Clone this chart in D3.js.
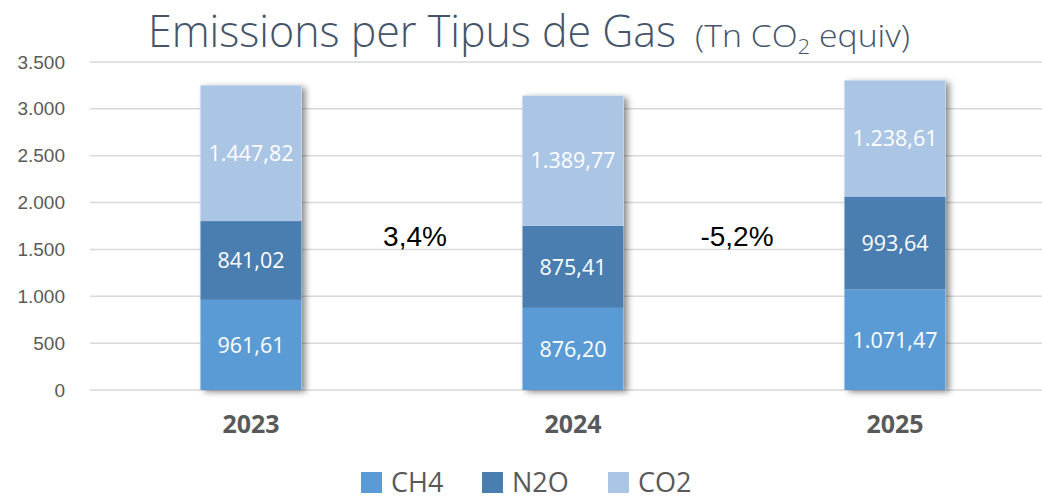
<!DOCTYPE html>
<html><head><meta charset="utf-8">
<script src="https://cdn.jsdelivr.net/npm/d3@7"></script>
<style>html,body{margin:0;padding:0;background:#fff;}svg{display:block;}</style>
</head><body>
<svg id="c" width="1042" height="500"></svg>
<script>
const years = ["2023", "2024", "2025"];
const seriesNames = ["CH4", "N2O", "CO2"];
const ch4 = [961.61, 876.20, 1071.47];
const n2o = [841.02, 875.41, 993.64];
const co2 = [1447.82, 1389.77, 1238.61];
const yTicks = [0, 500, 1000, 1500, 2000, 2500, 3000, 3500];
const changes = ["3,4%", "-5,2%"];
const colors = ["#5b9bd5", "#4a7eb0", "#abc5e5"];

const loc = d3.formatLocale({decimal: ",", thousands: ".", grouping: [3], currency: ["", "€"]});
const fmt2 = loc.format(",.2f");
const fmt0 = loc.format(",.0f");

const svg = d3.select("#c");
const W = 1042;
const x = d3.scaleBand().domain(years).range([90, 1056]).paddingInner(0.686).paddingOuter(0.343);
const y = d3.scaleLinear().domain([0, 3500]).range([390, 62]);

const defs = svg.append("defs");
const f = defs.append("filter").attr("id", "sh").attr("x", "-20%").attr("y", "-10%").attr("width", "140%").attr("height", "120%");
f.append("feDropShadow").attr("dx", 4).attr("dy", 2).attr("stdDeviation", 3).attr("flood-color", "#000").attr("flood-opacity", 0.45);

// gridlines
svg.append("g").selectAll("line").data(yTicks).join("line")
  .attr("x1", 90).attr("x2", W).attr("y1", d => y(d)).attr("y2", d => y(d))
  .attr("stroke", "#d9d9d9").attr("stroke-width", 1.5);

// y axis labels
const yAxis = d3.axisLeft(y).tickValues(yTicks).tickFormat(fmt0).tickSize(0).tickPadding(0);
const yg = svg.append("g").attr("transform", "translate(65,0)").call(yAxis);
yg.select(".domain").remove();
yg.selectAll("text").attr("font-family", "Liberation Sans, Arial, sans-serif").attr("font-size", 19).attr("fill", "#595959");

// stack
const rows = years.map((yr, i) => ({year: yr, CH4: ch4[i], N2O: n2o[i], CO2: co2[i]}));
const stacked = d3.stack().keys(seriesNames)(rows);

const barG = svg.append("g");
barG.selectAll("rect.shadow").data(rows).join("rect")
  .attr("x", d => x(d.year)).attr("width", x.bandwidth())
  .attr("y", d => y(d.CH4 + d.N2O + d.CO2)).attr("height", d => y(0) - y(d.CH4 + d.N2O + d.CO2))
  .attr("fill", "#fff").attr("filter", "url(#sh)");

stacked.forEach((s, si) => {
  barG.append("g").selectAll("rect").data(s).join("rect")
    .attr("x", d => x(d.data.year)).attr("width", x.bandwidth())
    .attr("y", d => y(d[1])).attr("height", d => y(d[0]) - y(d[1]))
    .attr("fill", colors[si]);
});
stacked.forEach((s, si) => {
  barG.append("g").selectAll("text").data(s).join("text")
    .attr("x", d => x(d.data.year) + x.bandwidth() / 2)
    .attr("y", d => (y(d[0]) + y(d[1])) / 2)
    .attr("dy", "0.36em")
    .attr("text-anchor", "middle")
    .attr("font-family", "Open Sans, sans-serif").attr("font-size", 21.5)
    .attr("fill", "#fff")
    .text(d => fmt2(d[1] - d[0]));
});

// x labels
const xAxis = d3.axisBottom(x).tickSize(0).tickPadding(0);
const xg = svg.append("g").attr("transform", "translate(0,433)").call(xAxis);
xg.select(".domain").remove();
xg.selectAll("text").attr("dy", 0).attr("font-family", "Open Sans, sans-serif").attr("font-weight", "bold").attr("font-size", 25).attr("fill", "#595959");

// change annotations
svg.append("g").selectAll("text").data(changes).join("text")
  .attr("x", (d, i) => (x(years[i]) + x(years[i + 1]) + x.bandwidth()) / 2 + 3)
  .attr("y", y(1535))
  .attr("text-anchor", "middle")
  .attr("font-family", "Liberation Sans, Arial, sans-serif").attr("font-size", 28)
  .attr("fill", "#000")
  .text(d => d);

// title
svg.append("text").attr("x", 148).attr("y", 47)
  .attr("font-family", "Open Sans, sans-serif").attr("font-weight", 300).attr("font-size", 45)
  .attr("fill", "#44546a")
  .attr("textLength", 528).attr("lengthAdjust", "spacingAndGlyphs")
  .text("Emissions per Tipus de Gas");
const t2 = svg.append("text").attr("x", 695).attr("y", 47)
  .attr("font-family", "Open Sans, sans-serif").attr("font-weight", 300).attr("font-size", 32)
  .attr("fill", "#44546a")
  .attr("textLength", 215).attr("lengthAdjust", "spacingAndGlyphs");
t2.append("tspan").text("(Tn CO");
t2.append("tspan").text("2").attr("font-size", 21).attr("dy", 7);
t2.append("tspan").text(" equiv)").attr("dy", -7);

// legend
const legX = [361, 482, 608];
const lg = svg.append("g").selectAll("g").data(seriesNames).join("g")
  .attr("transform", (d, i) => `translate(${legX[i]},472)`);
lg.append("rect").attr("width", 21).attr("height", 21).attr("fill", (d, i) => colors[i]);
lg.append("text").attr("x", 30).attr("y", 20).attr("font-family", "Open Sans, sans-serif").attr("font-size", 27)
  .attr("fill", "#595959").text(d => d);
</script>
</body></html>
